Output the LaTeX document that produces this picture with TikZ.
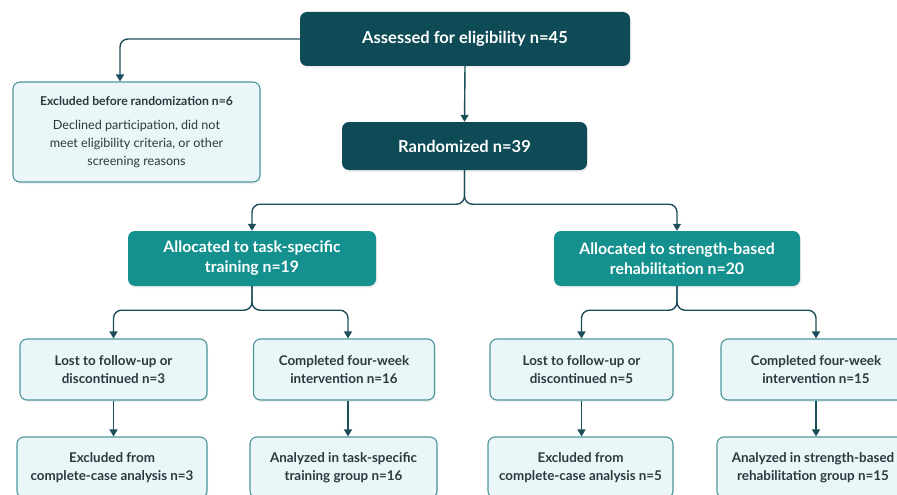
\documentclass[tikz,border=0pt]{standalone}
\usepackage{fontspec}
\setmainfont{Lato}
\usetikzlibrary{arrows.meta,shadows,calc}
\definecolor{darkteal}{HTML}{0E4B56}
\definecolor{midteal}{HTML}{14908F}
\definecolor{lightfill}{HTML}{EAF6F8}
\definecolor{lightborder}{HTML}{4B969B}
\definecolor{linecol}{HTML}{1B4E59}
\definecolor{textdark}{HTML}{2C3A3E}
\begin{document}
\begin{tikzpicture}[x=1pt,y=-1pt,
  boxshadow/.style={drop shadow={opacity=0.12,shadow xshift=1pt,shadow yshift=-2pt}},
  darkbox/.style={rectangle,rounded corners=7pt,fill=darkteal,text=white,
    font=\bfseries\fontsize{16.5}{20}\selectfont,align=center,inner sep=0pt,boxshadow},
  midbox/.style={rectangle,rounded corners=7pt,fill=midteal,text=white,
    font=\bfseries\fontsize{15.8}{20}\selectfont,align=center,inner sep=0pt,boxshadow},
  lightbox/.style={rectangle,rounded corners=7pt,fill=lightfill,draw=lightborder,
    line width=1.1pt,text=textdark,font=\bfseries\fontsize{13.4}{18}\selectfont,
    align=center,inner sep=0pt,boxshadow},
  conn/.style={draw=linecol,line width=1.4pt,rounded corners=8pt,
    -{Triangle[width=8pt,length=7pt]}}
]
\useasboundingbox (0,0) rectangle (897,495);
\clip (0,0) rectangle (897,495);

\node[darkbox,minimum width=330pt,minimum height=54pt] (assess) at (465,39)
  {Assessed for eligibility n=45};
\node[lightbox,minimum width=247pt,minimum height=100pt] (excl) at (136.5,132)
  {\fontsize{12.2}{18}\selectfont Excluded before randomization n=6\\[6pt]
   \mdseries\fontsize{12.6}{18}\selectfont Declined participation, did not\\
   \mdseries\fontsize{12.6}{18}\selectfont meet eligibility criteria, or other\\
   \mdseries\fontsize{12.6}{18}\selectfont screening reasons};
\node[darkbox,minimum width=245pt,minimum height=48pt] (rand) at (464.5,146)
  {Randomized n=39};

\node[midbox,minimum width=248pt,minimum height=55pt] (allocL) at (252,258.5)
  {Allocated to task-specific\\ training n=19};
\node[midbox,minimum width=246pt,minimum height=55pt] (allocR) at (677,258.5)
  {Allocated to strength-based\\ rehabilitation n=20};

\node[lightbox,minimum width=187pt,minimum height=61pt] (lostL) at (113.5,369.5)
  {Lost to follow-up or\\ discontinued n=3};
\node[lightbox,minimum width=181pt,minimum height=61pt] (compL) at (344,369.5)
  {Completed four-week\\ intervention n=16};
\node[lightbox,minimum width=183pt,minimum height=61pt] (lostR) at (581.5,369.5)
  {Lost to follow-up or\\ discontinued n=5};
\node[lightbox,minimum width=190pt,minimum height=61pt] (compR) at (816,369.5)
  {Completed four-week\\ intervention n=15};

\node[lightbox,minimum width=190pt,minimum height=61pt] (exclL) at (112,467.5)
  {Excluded from\\ complete-case analysis n=3};
\node[lightbox,minimum width=187pt,minimum height=61pt] (anL) at (343.5,467.5)
  {Analyzed in task-specific\\ training group n=16};
\node[lightbox,minimum width=185pt,minimum height=61pt] (exclR) at (580.5,467.5)
  {Excluded from\\ complete-case analysis n=5};
\node[lightbox,minimum width=192pt,minimum height=61pt] (anR) at (813,467.5)
  {Analyzed in strength-based\\ rehabilitation group n=15};

\draw[conn] (assess.west) -| ($(excl.north)+(-16.5,0)$);
\draw[conn] (assess.south) -- (rand.north);
\draw[conn] (rand.south) -- ++(0,34) -| (allocL.north);
\draw[conn] (rand.south) -- ++(0,34) -| (allocR.north);
\draw[conn] (allocL.south) -- ++(0,24) -| (lostL.north);
\draw[conn] (allocL.south) -- ++(0,24) -| ($(compL.north)+(4,0)$);
\draw[conn] (allocR.south) -- ++(0,24) -| (lostR.north);
\draw[conn] (allocR.south) -- ++(0,24) -| (compR.north);
\draw[conn] (lostL.south) -- (exclL.north -| lostL.south);
\draw[conn] ($(compL.south)+(4,0)$) -- ($(anL.north -| compL.south)+(4,0)$);
\draw[conn] (lostR.south) -- (exclR.north -| lostR.south);
\draw[conn] (compR.south) -- (anR.north -| compR.south);
\end{tikzpicture}
\end{document}
